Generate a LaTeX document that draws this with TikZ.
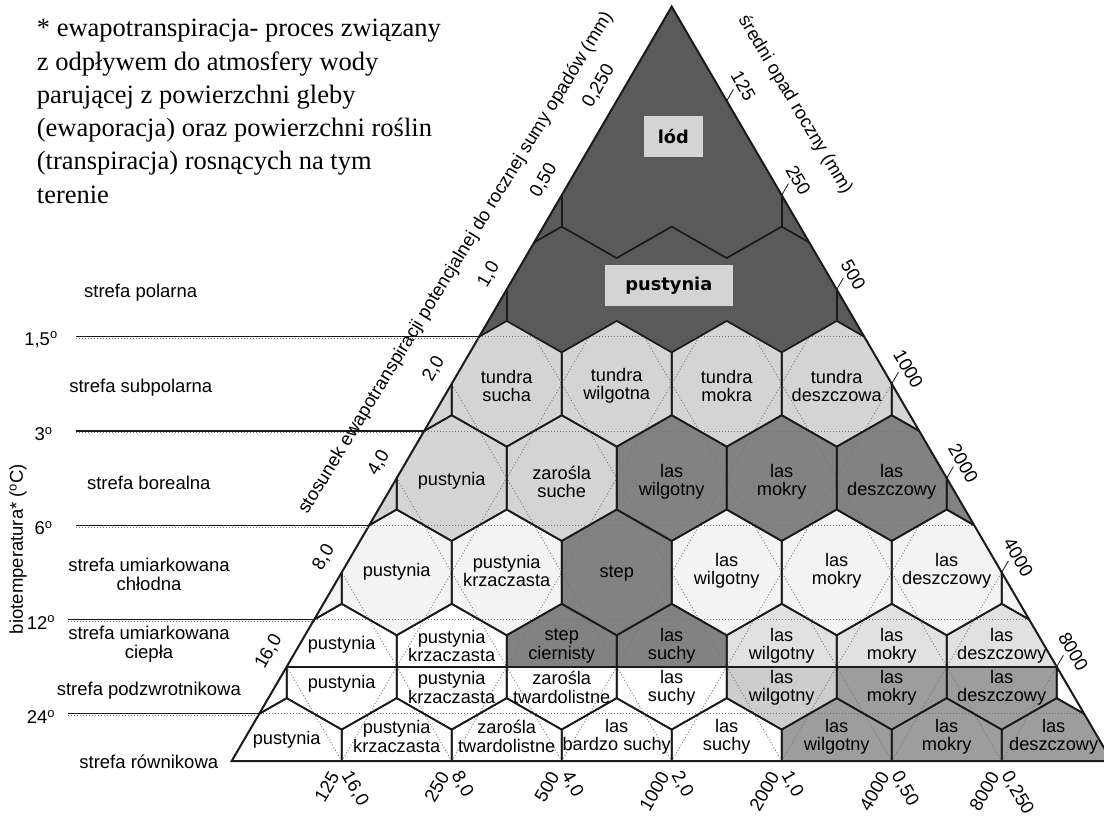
\documentclass[tikz,border=0pt]{standalone}
\usepackage{fontspec}
\setmainfont{Liberation Serif}
\setsansfont{Liberation Sans}
\newfontfamily\djv{DejaVu Sans}
\definecolor{cPolar}{HTML}{5A5A5A}
\definecolor{cBox}{HTML}{D4D4D4}
\definecolor{cLight}{HTML}{D4D4D4}
\definecolor{cDark}{HTML}{828282}
\definecolor{cPale}{HTML}{F3F3F3}
\definecolor{cL2}{HTML}{E1E1E1}
\definecolor{cL3}{HTML}{CDCDCD}
\definecolor{cM}{HTML}{9D9D9D}
\definecolor{cLine}{HTML}{1A1A1A}
\tikzset{
  hexp/.style 2 args={insert path={(#1-55,#2-31.43) -- (#1,#2-62.86) -- (#1+55,#2-31.43) -- (#1+55,#2+31.43) -- (#1,#2+62.86) -- (#1-55,#2+31.43) -- cycle}},
  uhex/.style 2 args={insert path={(#1-55,#2) -- (#1-55,#2-31.43) -- (#1,#2-62.86) -- (#1+55,#2-31.43) -- (#1+55,#2) -- cycle}},
  lhex/.style 2 args={insert path={(#1-55,#2) -- (#1-55,#2+31.43) -- (#1,#2+62.86) -- (#1+55,#2+31.43) -- (#1+55,#2) -- cycle}},
  hexline/.style={draw=cLine, line width=1.7pt, line join=round},
  guide/.style={draw=black!55, line width=0.9pt, dash pattern=on 0.9pt off 2.1pt},
  tline/.style={draw=cLine, line width=1.2pt},
  ticko/.style={draw=cLine, line width=0.8pt},
  lab/.style={font=\sffamily\fontsize{18.2}{18.4}\selectfont, align=center, inner sep=0pt},
  side/.style={font=\sffamily\fontsize{18.5}{19}\selectfont, align=center, inner sep=0pt},
  num/.style={font=\sffamily\fontsize{18.5}{19}\selectfont, inner sep=0pt},
  boxlab/.style={fill=cBox, font=\djv\bfseries\fontsize{17.8}{18}\selectfont, inner sep=0pt, minimum height=41pt},
  foot/.style={font=\fontsize{26.5}{33.2}\selectfont, anchor=base west, inner sep=0pt}
}
\begin{document}
\begin{tikzpicture}[x=1pt,y=-1pt]
\useasboundingbox (0,0) rectangle (1104,816);
\coordinate (L) at (231.7,761);
\coordinate (T) at (671.7,6.6);
\coordinate (R) at (1111.7,761);
\begin{scope}
\clip (L) -- (T) -- (R) -- cycle;
\fill[cPolar] (L) -- (T) -- (R) -- cycle;
% row 4 (subpolar)
\foreach \x/\c in {396.7/cLight,506.7/cLight,616.7/cLight,726.7/cLight,836.7/cLight,946.7/cLight}
  {\fill[fill=\c] [hexp={\x}{383.8}];}
% row 3 (boreal)
\foreach \x/\c in {341.7/cLight,451.7/cLight,561.7/cLight,671.7/cDark,781.7/cDark,891.7/cDark,1001.7/cDark}
  {\fill[fill=\c] [hexp={\x}{478.1}];}
% row 2 (cool temperate)
\foreach \x/\c in {286.7/cPale,396.7/cPale,506.7/cPale,616.7/cDark,726.7/cPale,836.7/cPale,946.7/cPale,1056.7/cPale}
  {\fill[fill=\c] [hexp={\x}{572.4}];}
% row 1 (warm temperate / subtropical)
\foreach \x/\cu/\cl in {231.7/white/white,341.7/white/white,451.7/white/white,561.7/cDark/white,671.7/cDark/white,781.7/cL2/cL3,891.7/cL2/cM,1001.7/cL2/cM,1111.7/white/white}
  {\fill[fill=\cu] [uhex={\x}{666.7}];
   \fill[fill=\cl] [lhex={\x}{666.7}];}
% row 0 (tropical)
\foreach \x/\c in {286.7/white,396.7/white,506.7/white,616.7/white,726.7/white,836.7/cM,946.7/cM,1056.7/cM}
  {\fill[fill=\c] [hexp={\x}{761}];}
% guide lines
\foreach \xv in {341.7,451.7,561.7,671.7,781.7,891.7,1001.7}
  {\draw[guide] (\xv,761) -- ++(440,-754.4);
   \draw[guide] (\xv,761) -- ++(-440,-754.4);}
\foreach \yy in {336.65,430.95,525.25,619.55,713.85}
  {\draw[guide] (200,\yy) -- (1110,\yy);}
% polar refill
\fill[cPolar] (479.2,336.65) -- (506.7,320.94) -- (561.7,352.37) -- (616.7,320.94) -- (671.7,352.37) -- (726.7,320.94) -- (781.7,352.37) -- (836.7,320.94) -- (864.2,336.65) -- (T) -- cycle;
% hex outlines
\foreach \x in {396.7,506.7,616.7,726.7,836.7,946.7} {\draw[hexline] [hexp={\x}{383.8}];}
\foreach \x in {341.7,451.7,561.7,671.7,781.7,891.7,1001.7} {\draw[hexline] [hexp={\x}{478.1}];}
\foreach \x in {286.7,396.7,506.7,616.7,726.7,836.7,946.7,1056.7} {\draw[hexline] [hexp={\x}{572.4}];}
\foreach \x in {231.7,341.7,451.7,561.7,671.7,781.7,891.7,1001.7,1111.7} {\draw[hexline] [hexp={\x}{666.7}];}
\foreach \x in {286.7,396.7,506.7,616.7,726.7,836.7,946.7,1056.7} {\draw[hexline] [hexp={\x}{761}];}
\draw[hexline] (200,666.7) -- (1110,666.7);
% polar boundaries
\draw[hexline] (506.7,258.07) -- (561.7,226.64) -- (616.7,258.07) -- (671.7,226.64) -- (726.7,258.07) -- (781.7,226.64) -- (836.7,258.07);
\draw[hexline] (561.7,226.64) -- (561.7,163.8);
\draw[hexline] (781.7,226.64) -- (781.7,163.8);
\draw[hexline] (506.7,258.07) -- (506.7,320.94);
\draw[hexline] (836.7,258.07) -- (836.7,320.94);
\end{scope}
\draw[draw=cLine, line width=2pt, line join=miter] (L) -- (T) -- (R) -- cycle;

% boxed polar labels
\node[boxlab, minimum width=58.7pt] (lod) at (673.3,136.3) {lód};
\node[boxlab, minimum width=127.7pt] (pol) at (668.9,285.9) {pustynia};

% zone labels
\node[lab] (t1) at (506.7,386) {tundra\\sucha};
\node[lab] (t2) at (616.7,386) {tundra\\wilgotna};
\node[lab] (t3) at (726.7,386) {tundra\\mokra};
\node[lab] (t4) at (836.7,386) {tundra\\deszczowa};
\node[lab] (b1) at (451.7,481) {pustynia};
\node[lab] (b2) at (561.7,482) {zarośla\\suche};
\node[lab] (b3) at (671.7,482) {las\\wilgotny};
\node[lab] (b4) at (781.7,482) {las\\mokry};
\node[lab] (b5) at (891.7,482) {las\\deszczowy};
\node[lab] (c1) at (396.7,572) {pustynia};
\node[lab] (c2) at (506.7,571) {pustynia\\krzaczasta};
\node[lab] (c3) at (616.7,574) {step};
\node[lab] (c4) at (726.7,571) {las\\wilgotny};
\node[lab] (c5) at (836.7,571) {las\\mokry};
\node[lab] (c6) at (946.7,571) {las\\deszczowy};
\node[lab] (w1) at (341.7,645) {pustynia};
\node[lab] (w2) at (451.7,646) {pustynia\\krzaczasta};
\node[lab] (w3) at (561.7,646) {step\\ciernisty};
\node[lab] (w4) at (671.7,646) {las\\suchy};
\node[lab] (w5) at (781.7,646) {las\\wilgotny};
\node[lab] (w6) at (891.7,646) {las\\mokry};
\node[lab] (w7) at (1001.7,646) {las\\deszczowy};
\node[lab] (s1) at (341.7,684) {pustynia};
\node[lab] (s2) at (451.7,687.5) {pustynia\\krzaczasta};
\node[lab] (s3) at (561.7,687.5) {zarośla\\twardolistne};
\node[lab] (s4) at (671.7,687.5) {las\\suchy};
\node[lab] (s5) at (781.7,687.5) {las\\wilgotny};
\node[lab] (s6) at (891.7,687.5) {las\\mokry};
\node[lab] (s7) at (1001.7,687.5) {las\\deszczowy};
\node[lab] (e1) at (286.7,740) {pustynia};
\node[lab] (e2) at (396.7,736.5) {pustynia\\krzaczasta};
\node[lab] (e3) at (506.7,736.5) {zarośla\\twardolistne};
\node[lab] (e4) at (616.7,736.5) {las\\bardzo suchy};
\node[lab] (e5) at (726.7,736.5) {las\\suchy};
\node[lab] (e6) at (836.7,736.5) {las\\wilgotny};
\node[lab] (e7) at (946.7,736.5) {las\\mokry};
\node[lab] (e8) at (1053.7,736.5) {las\\deszczowy};

% right edge ticks and labels
\foreach \px/\py/\t in {726.7/100.9/125,781.7/195.2/250,836.7/289.5/500,891.7/383.8/1000,946.7/478.1/2000,1001.7/572.4/4000,1056.7/666.7/8000}
  {\draw[ticko] (\px,\py) -- ++(6.7,-11.5);
   \node[num, rotate=-60] (r\t) at (\px+16.6,\py-15) {\t};}
% left edge labels
\foreach \px/\py/\t/\n in {286.7/666.7/{16,0}/a,341.7/572.4/{8,0}/b,396.7/478.1/{4,0}/c,451.7/383.8/{2,0}/d,506.7/289.5/{1,0}/e,561.7/195.2/{0,50}/f,616.7/100.9/{0,250}/g}
  {\node[num, rotate=60] (l\n) at (\px-18,\py-15) {\t};}
% bottom labels
\foreach \xv/\p/\q/\n in {341.7/125/{16,0}/a,451.7/250/{8,0}/b,561.7/500/{4,0}/c,671.7/1000/{2,0}/d,781.7/2000/{1,0}/e,891.7/4000/{0,50}/f,1001.7/8000/{0,250}/g}
  {\node[num, rotate=60, anchor=east] (bp\n) at (\xv-7,773.5) {\p};
   \node[num, rotate=-60, anchor=west] (bq\n) at (\xv+4,773) {\q};}

% axis titles
\node[num, rotate=58.5] (ltitle) at (456,263) {stosunek ewapotranspiracji potencjalnej do rocznej sumy opadów (mm)};
\node[num, rotate=-59] (rtitle) at (795,105) {średni opad roczny (mm)};

% temperature lines and labels
\foreach \y/\xs/\lab/\lx/\n in {336.65/76/{1,5}/41/a,430.95/76/3/43.5/b,525.25/76/6/43.5/c,619.55/68/12/41/d,713.85/68/24/41/e}
  {\pgfmathsetmacro\ex{231.7+0.58324*(761-\y)}
   \draw[tline] (\xs,\y) -- (\ex,\y);
   \draw[guide] (\xs,\y+1.8) -- (\ex,\y+1.8);
   \node[num] (deg\n) at (\lx,\y+3) {\lab\textsuperscript{o}};}

\node[side] (zp) at (140.7,292.7) {strefa polarna};
\node[side] (zs) at (140.8,387.9) {strefa subpolarna};
\node[side] (zb) at (148.8,482.4) {strefa borealna};
\node[side] (zuc) at (149,574) {strefa umiarkowana\\chłodna};
\node[side] (zuw) at (149,644.3) {strefa umiarkowana\\ciepła};
\node[side] (zpz) at (148.8,690.4) {strefa podzwrotnikowa};
\node[side] (zr) at (148.8,762) {strefa równikowa};
\node[side, rotate=90] (bio) at (18,549) {biotemperatura* (\textsuperscript{o}C)};

% footnote
\node[foot] (f1) at (36.7,37) {* ewapotranspiracja- proces związany};
\node[foot] (f2) at (36.7,70.2) {z odpływem do atmosfery wody};
\node[foot] (f3) at (36.7,103.4) {parującej z powierzchni gleby};
\node[foot] (f4) at (36.7,136.6) {(ewaporacja) oraz powierzchni roślin};
\node[foot] (f5) at (36.7,169.8) {(transpiracja) rosnących na tym};
\node[foot] (f6) at (36.7,203) {terenie};
\end{tikzpicture}
\end{document}
